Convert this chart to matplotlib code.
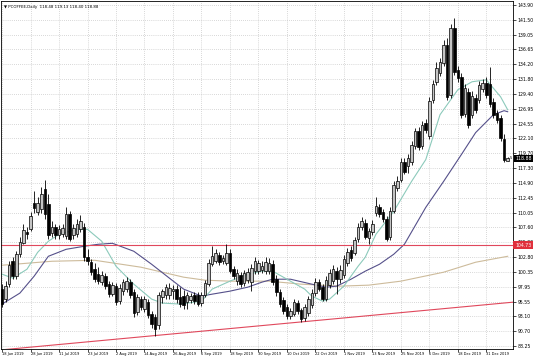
import matplotlib
matplotlib.use("Agg")
import matplotlib.pyplot as plt
import numpy as np

# PCOFFEE daily candles, 18 Jun 2019 .. early Jan 2020
symbol = "PCOFFEE,Daily"
last_ohlc = ["118.48", "119.13", "118.40", "118.88"]

opens = [97.53, 95.90, 98.34, 102.08, 99.64, 103.22, 105.01, 106.80, 107.29, 111.52,
         110.05, 110.54, 113.80, 111.36, 106.64, 107.62, 106.32, 106.48, 106.15, 109.73,
         106.32, 106.48, 107.29, 107.62, 102.73, 101.92, 100.78, 99.97, 98.67, 99.64,
         98.34, 96.71, 98.02, 95.57, 97.20, 97.53, 98.67, 97.04, 93.79, 95.90,
         94.27, 95.41, 93.46, 92.97, 91.67, 96.22, 96.55, 96.55, 97.20, 97.53,
         96.22, 96.39, 95.41, 95.74, 96.55, 96.55, 95.25, 96.55, 98.34, 101.59,
         102.08, 103.06, 102.08, 101.76, 103.38, 100.78, 98.83, 99.80, 98.50, 99.00,
         98.67, 100.46, 100.46, 100.62, 100.46, 100.46, 101.59, 99.15, 97.04, 95.74,
         94.60, 93.13, 93.46, 95.25, 94.11, 92.81, 93.62, 94.92, 96.88, 98.67,
         97.85, 95.90, 98.18, 98.83, 100.46, 99.15, 99.80, 101.76, 103.87, 103.38,
         105.66, 107.62, 108.26, 105.83, 106.80, 109.89, 110.87, 110.05, 108.91, 105.99,
         110.22, 113.96, 115.42, 118.35, 117.70, 118.35, 120.96, 123.40, 120.96, 124.70,
         122.58, 128.44, 131.37, 132.83, 134.46, 137.39, 129.25, 140.15, 133.32, 132.18,
         126.16, 129.74, 125.99, 128.77, 128.44, 130.23, 131.20, 131.04, 128.11, 126.32,
         125.51, 122.09, 118.48]
highs = [98.34, 98.83, 102.08, 102.73, 103.71, 105.99, 108.10, 107.62, 110.05, 113.47,
         112.50, 114.12, 115.26, 112.98, 108.59, 108.10, 107.94, 108.10, 110.87, 110.22,
         108.10, 108.91, 109.56, 108.26, 104.03, 102.40, 101.76, 101.11, 100.46, 100.13,
         98.83, 98.67, 98.50, 98.34, 99.15, 99.48, 99.15, 97.53, 96.71, 96.39,
         96.39, 95.90, 93.95, 93.46, 97.04, 97.53, 98.34, 98.50, 98.18, 98.18,
         97.85, 97.36, 97.04, 96.88, 97.04, 97.04, 97.04, 98.99, 102.40, 104.52,
         104.03, 103.54, 103.06, 104.85, 104.03, 101.27, 100.78, 100.29, 100.62, 100.94,
         101.59, 102.73, 102.24, 102.08, 102.73, 102.57, 102.24, 99.80, 97.53, 96.22,
         95.09, 94.44, 95.90, 95.74, 94.44, 95.09, 96.39, 97.53, 99.32, 99.15,
         98.34, 99.64, 100.78, 101.43, 101.11, 101.43, 103.06, 104.20, 104.52, 105.99,
         108.26, 109.24, 108.91, 107.45, 108.75, 112.50, 111.36, 110.54, 109.40, 110.87,
         115.10, 116.07, 118.99, 118.99, 119.65, 121.77, 123.88, 124.05, 125.02, 125.35,
         128.93, 131.69, 134.62, 135.27, 138.20, 138.53, 140.81, 141.78, 133.97, 132.83,
         131.04, 130.39, 129.90, 129.42, 131.53, 131.86, 132.18, 133.81, 128.77, 126.81,
         125.99, 122.91, 119.13]
lows = [94.60, 95.41, 97.85, 99.15, 99.15, 102.73, 104.84, 105.66, 106.97, 109.89,
        109.56, 109.89, 108.91, 105.66, 105.99, 105.66, 105.66, 105.99, 105.66, 105.34,
        105.66, 105.99, 106.80, 102.08, 101.43, 99.80, 98.67, 98.34, 98.18, 97.53,
        96.22, 96.39, 94.92, 95.09, 96.55, 97.04, 96.06, 92.98, 93.30, 94.11,
        93.79, 92.81, 91.18, 89.88, 91.02, 95.25, 95.90, 95.90, 95.90, 95.25,
        94.60, 94.27, 94.27, 95.25, 95.09, 94.76, 94.76, 96.22, 98.02, 101.27,
        101.76, 101.43, 101.59, 101.43, 100.13, 99.15, 98.18, 97.85, 98.02, 98.50,
        97.20, 99.97, 99.97, 100.13, 99.97, 99.97, 98.18, 96.39, 94.60, 93.46,
        92.65, 92.65, 93.13, 93.46, 92.16, 92.32, 93.13, 94.44, 96.39, 97.20,
        95.57, 95.57, 97.69, 98.34, 96.71, 98.50, 99.32, 101.27, 102.08, 103.06,
        105.17, 107.13, 105.66, 104.85, 106.32, 109.40, 109.24, 108.42, 105.34, 105.50,
        109.89, 113.47, 114.94, 116.24, 116.40, 117.86, 120.47, 120.30, 120.47, 123.07,
        122.09, 127.95, 130.88, 132.34, 133.97, 128.44, 128.77, 132.51, 131.37, 125.51,
        125.67, 123.89, 125.51, 126.32, 127.95, 129.74, 128.77, 127.30, 125.51, 124.70,
        121.77, 118.30, 118.40]
closes = [95.09, 98.02, 101.43, 99.64, 103.22, 105.17, 107.13, 106.48, 109.40, 110.71,
          111.52, 112.98, 109.73, 106.32, 107.62, 106.32, 107.29, 107.45, 109.73, 105.66,
          107.45, 108.10, 108.59, 102.73, 102.08, 100.29, 99.15, 98.83, 99.80, 98.02,
          96.71, 98.18, 95.41, 97.69, 98.67, 98.83, 96.55, 93.62, 96.22, 94.60,
          95.90, 93.30, 91.83, 91.02, 96.55, 97.20, 97.85, 97.69, 97.53, 95.90,
          95.09, 94.92, 96.55, 96.39, 95.57, 95.09, 96.55, 98.50, 101.76, 102.89,
          103.38, 101.92, 102.57, 103.38, 100.46, 99.64, 100.13, 98.34, 100.13, 100.29,
          100.94, 102.08, 101.76, 101.27, 101.92, 101.76, 98.67, 97.04, 95.09, 93.95,
          93.13, 93.95, 95.41, 93.95, 92.65, 94.60, 95.90, 96.88, 98.67, 97.53,
          95.90, 98.99, 100.13, 100.78, 99.15, 100.62, 102.40, 103.54, 102.57, 105.50,
          107.62, 108.59, 105.99, 106.97, 108.10, 111.03, 109.73, 108.91, 105.66, 110.22,
          114.45, 115.10, 118.35, 116.72, 118.99, 121.12, 123.40, 120.79, 124.37, 123.56,
          128.28, 131.04, 133.65, 134.62, 137.39, 128.93, 140.15, 132.99, 132.02, 125.99,
          130.39, 124.37, 129.09, 126.81, 130.88, 131.20, 129.25, 127.79, 125.99, 125.18,
          122.26, 118.60, 118.88]

date_labels = ["18 Jun 2019", "28 Jun 2019", "11 Jul 2019", "23 Jul 2019", "2 Aug 2019",
               "14 Aug 2019", "26 Aug 2019", "6 Sep 2019", "18 Sep 2019", "30 Sep 2019",
               "10 Oct 2019", "22 Oct 2019", "1 Nov 2019", "13 Nov 2019", "25 Nov 2019",
               "6 Dec 2019", "18 Dec 2019", "31 Dec 2019"]
bars_per_label = 8

price_labels = ["88.25", "90.70", "93.10", "95.55", "97.95", "100.35", "102.80", "105.20",
                "107.60", "110.05", "112.45", "114.90", "117.30", "119.70", "122.10",
                "124.55", "126.95", "129.40", "131.80", "134.20", "136.65", "139.05",
                "141.50", "143.90"]
price_bottom, price_top = 88.25, 143.90

# moving averages, read at sample bars
fast_ma_bars = [0, 3, 7, 10, 13, 16, 21, 24, 28, 32, 37, 42, 45, 50, 56, 59, 64, 69, 73,
                76, 81, 85, 87, 90, 92, 96, 100, 102, 105, 110, 115, 119, 123, 128, 132,
                136, 140, 142]
fast_ma = [99.97, 99.32, 100.78, 103.54, 105.34, 106.48, 107.29, 107.29, 105.34, 101.27,
           98.34, 95.90, 95.25, 95.09, 95.57, 97.53, 98.83, 99.97, 100.46, 100.46,
           98.83, 97.53, 96.39, 95.57, 95.90, 98.02, 101.27, 102.73, 106.48, 110.22,
           115.10, 118.67, 125.99, 130.06, 131.37, 131.69, 128.93, 126.81]
mid_ma_bars = [0, 5, 9, 13, 18, 23, 27, 31, 37, 42, 47, 51, 56, 59, 64, 69, 73, 76, 81,
               87, 91, 94, 98, 102, 106, 110, 113, 119, 124, 129, 133, 138, 141, 142]
mid_ma = [95.09, 96.88, 99.64, 102.89, 104.03, 104.52, 104.85, 105.01, 103.71, 101.59,
          99.32, 97.53, 96.39, 96.71, 97.20, 97.85, 98.67, 99.15, 99.15, 98.34,
          97.85, 98.02, 99.15, 100.46, 101.59, 103.22, 104.85, 110.87, 115.10, 119.49,
          123.07, 125.99, 126.65, 126.48]
slow_ma_bars = [0, 14, 26, 39, 51, 57, 64, 75, 84, 95, 103, 112, 124, 133, 142]
slow_ma = [101.43, 102.08, 102.24, 101.11, 99.48, 98.99, 98.83, 98.83, 98.34, 98.02,
           98.18, 98.83, 100.29, 101.92, 102.89]

level_price = 104.73
trend_bars = [-0.5, 143.5]
trend_prices = [87.60, 95.40]

W, H = 536, 357
fig = plt.figure(figsize=(W / 100, H / 100), dpi=100)
ax = fig.add_axes([1 / W, 8 / H, 512 / W, 348 / H])

x = np.arange(len(closes))
o = np.array(opens)
c = np.array(closes)
up = c >= o

ax.vlines(x, lows, highs, color="black", linewidth=0.6, zorder=3)
body_low = np.minimum(o, c)
body_h = np.maximum(np.abs(c - o), 0.08)
ax.bar(x[up], body_h[up], bottom=body_low[up], width=0.72, color="#c4c4c4",
       edgecolor="black", linewidth=0.5, zorder=4)
ax.bar(x[~up], body_h[~up], bottom=body_low[~up], width=0.72, color="black",
       edgecolor="black", linewidth=0.5, zorder=4)

ax.plot(slow_ma_bars, slow_ma, color="#cdbb9b", linewidth=0.8, zorder=2)
ax.plot(mid_ma_bars, mid_ma, color="#55508a", linewidth=0.8, zorder=2)
ax.plot(fast_ma_bars, fast_ma, color="#8ccabb", linewidth=0.8, zorder=2)

ax.axhline(level_price, color="#e0485c", linewidth=0.8, zorder=2)
ax.plot(trend_bars, trend_prices, color="#e0485c", linewidth=0.8, zorder=2)

step = (price_top - price_bottom) / (len(price_labels) - 1)
yt = price_bottom + step * np.arange(len(price_labels))
ax.set_yticks(yt)
ax.set_yticklabels(price_labels)
ax.yaxis.tick_right()
xt = np.arange(len(date_labels)) * bars_per_label
ax.set_xticks(xt)
ax.set_xticklabels(date_labels, ha="left")
ax.tick_params(axis="x", direction="out", length=2, width=0.5, pad=0.5,
               labelsize=2.6, colors="black")
ax.tick_params(axis="y", direction="out", length=2, width=0.5, pad=1.5,
               labelsize=3.3, colors="black")

ax.set_xlim(-0.3, 143.5)
ax.set_ylim(87.76, 144.55)
ax.grid(True, linestyle=(0, (1, 2)), color="#b4b4b4", linewidth=0.5)
ax.set_axisbelow(True)
for s in ax.spines.values():
    s.set_linewidth(0.6)
    s.set_color("black")

# price boxes on the scale, drawn over the tick labels like the terminal does
ytr = ax.get_yaxis_transform()
ax.text(1.004, c[-1], "%.2f" % closes[-1], transform=ytr, fontsize=3.3,
        color="white", ha="left", va="center", zorder=10,
        bbox=dict(boxstyle="square,pad=0.25", fc="black", ec="none"))
ax.text(1.004, level_price, "%.2f" % level_price, transform=ytr, fontsize=3.3,
        color="white", ha="left", va="center", zorder=10,
        bbox=dict(boxstyle="square,pad=0.35", fc="#e0303c", ec="none"))
ax.text(x[-1] + 0.7, c[-1], "5", fontsize=2.6, va="center", ha="left")

ax.text(0.006, 0.988, "\u25bc " + symbol + "  " + " ".join(last_ohlc),
        transform=ax.transAxes, fontsize=2.8, va="top", ha="left")

fig.savefig("out.png", dpi=100)
